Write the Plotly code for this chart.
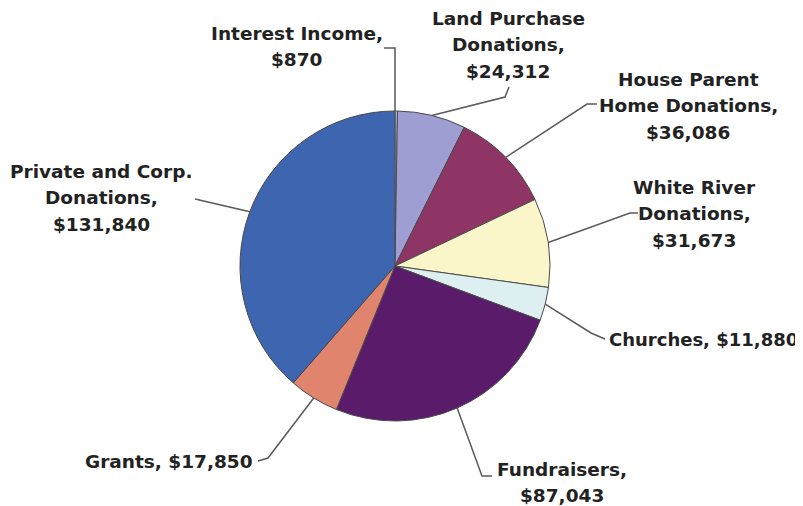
import math
import plotly.graph_objects as go

# ---- data ----
categories = ["Interest Income", "Land Purchase Donations", "House Parent Home Donations",
              "White River Donations", "Churches", "Fundraisers", "Grants",
              "Private and Corp. Donations"]
values = [870, 24312, 36086, 31673, 11880, 87043, 17850, 131840]
label_lines = [
    ["Interest Income,", "$870"],
    ["Land Purchase", "Donations,", "$24,312"],
    ["House Parent", "Home Donations,", "$36,086"],
    ["White River", "Donations,", "$31,673"],
    ["Churches, $11,880"],
    ["Fundraisers,", "$87,043"],
    ["Grants, $17,850"],
    ["Private and Corp.", "Donations,", "$131,840"],
]
colors = ["#c4c4ea", "#9e9ed2", "#8e3566", "#faf6ca", "#ddeff0", "#5a1b6a", "#e0846e", "#3d65b0"]

# ---- layout constants (pixels, in screen coordinates) ----
W, H = 803, 506
OFF = 8  # page body margin
CX, CY, R = 395, 266, 155
LINE_PITCH = 26.5
label_pos = [
    (297, 33, "center", 18.5),
    (508, 18, "center", 18.5),
    (688, 79, "center", 18.5),
    (694, 187, "center", 18.5),
    (607, 339, "left", 18),
    (562, 469, "center", 18.5),
    (255, 461, "right", 18.5),
    (101, 171, "center", 18.5),
]
elbows = [
    [(CX, 48), (384, 48)],
    [(505, 97), (509, 87)],
    [(587, 104), (597, 104)],
    [(630, 213), (638, 213)],
    [(591, 333), (605, 339)],
    [(482, 476), (492, 476)],
    [(268, 458), (258, 461)],
    [(195, 199)],
]

fig = go.Figure()
fig.add_trace(go.Pie(
    labels=categories, values=values, sort=False, direction="clockwise", rotation=0,
    marker=dict(colors=colors, line=dict(color="#4a4a4a", width=1)),
    textinfo="none", hoverinfo="label+value", showlegend=False,
    domain=dict(x=[(CX - R - OFF) / W, (CX + R - OFF) / W],
                y=[1 - (CY + R - OFF) / H, 1 - (CY - R - OFF) / H]),
))

total = sum(values)
cum = 0
annotations = []
for i, v in enumerate(values):
    mid = (cum + v / 2) / total * 2 * math.pi
    cum += v
    ax = CX + R * math.sin(mid)
    ay = CY - R * math.cos(mid)
    if i == 0:
        ax, ay = CX, CY - R
    xs = [ax - OFF] + [p[0] - OFF for p in elbows[i]]
    ys = [ay - OFF] + [p[1] - OFF for p in elbows[i]]
    fig.add_trace(go.Scatter(x=xs, y=ys, mode="lines", line=dict(color="#5a5a5a", width=1.5),
                             hoverinfo="skip", showlegend=False))
    lx, ly, anc, fs = label_pos[i]
    for j, t in enumerate(label_lines[i]):
        annotations.append(dict(x=lx - OFF, y=ly + j * LINE_PITCH - OFF, xref="x", yref="y",
                                text="<b>" + t + "</b>",
                                showarrow=False, xanchor=anc, yanchor="middle",
                                font=dict(family="DejaVu Sans", size=fs, color="#222222")))

fig.update_layout(
    width=W, height=H, margin=dict(l=0, r=0, t=0, b=0),
    paper_bgcolor="white", plot_bgcolor="rgba(0,0,0,0)",
    xaxis=dict(range=[0, W], visible=False, fixedrange=True),
    yaxis=dict(range=[H, 0], visible=False, fixedrange=True),
    annotations=annotations,
)

fig.write_html("out.html")
